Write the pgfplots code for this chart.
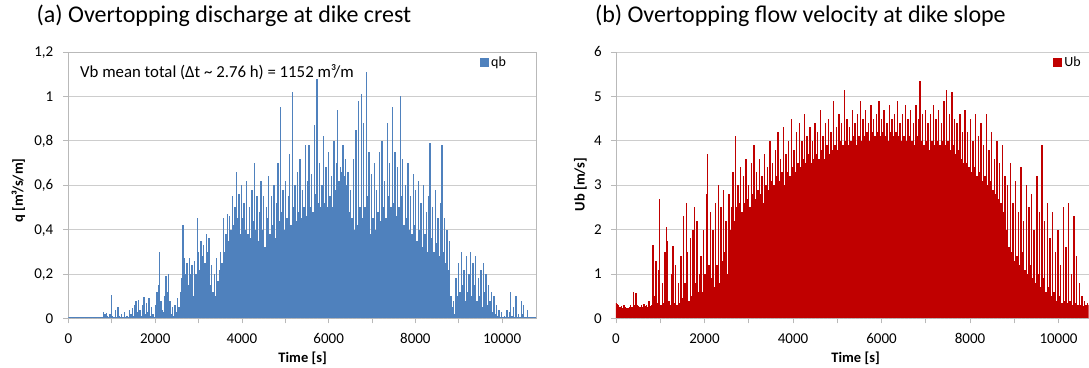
\documentclass[border=0pt]{standalone}
\usepackage{pgfplots}
\pgfplotsset{compat=1.18}
\usepackage{fontspec}
\setmainfont{Carlito}
\definecolor{qbblue}{RGB}{79,129,189}
\definecolor{ubred}{RGB}{192,0,0}
\definecolor{gridgray}{RGB}{205,205,205}
\definecolor{axisgray}{RGB}{185,185,185}
\pgfplotsset{
  excel/.style={
    scale only axis, height=266.5pt,
    xmin=0, ymin=0,
    xtick={0,2000,4000,6000,8000,10000},
    minor xtick={1000,3000,5000,7000,9000},
    scaled x ticks=false, scaled y ticks=false,
    tick align=outside, major tick length=5pt, minor tick length=5pt,
    tick style={axisgray, line width=0.8pt},
    ymajorgrids, grid style={gridgray, line width=0.8pt},
    axis line style={axisgray, line width=0.8pt},
    tick pos=left,
    /pgf/number format/assume math mode=true,
    /pgf/number format/use comma,
    /pgf/number format/1000 sep={},
    ticklabel style={font=\fontsize{15}{18}\selectfont, text height=9.5pt, text depth=0pt, inner sep=0pt},
    xticklabel style={anchor=north, yshift=-10pt},
    title style={anchor=west, inner sep=0pt, font=\fontsize{24}{28}\selectfont},
    legend style={draw=none, fill=none, anchor=west, inner sep=0pt, font=\fontsize{14}{16}\selectfont},
  }
}
\begin{document}
\begin{tikzpicture}
\path (0pt,0pt) rectangle (1089pt,367pt);
% ---------------- (a) ----------------
\begin{axis}[excel, at={(68.5pt,48.5pt)}, anchor=south west, width=468.5pt,
  xmax=10800, ymax=1.2, ytick={0,0.2,0.4,0.6,0.8,1,1.2},
  yticklabel style={anchor=east, xshift=-10pt},
  title={(a) Overtopping discharge at dike crest},
  title style={at={(axis description cs:-0.0683,1.112)}},
  xlabel={Time [s]}, ylabel={q [m³/s/m]},
  every axis x label/.style={at={(axis description cs:0.5,-0.149)}, anchor=center, font=\fontsize{14.5}{17}\selectfont\bfseries},
  every axis y label/.style={at={(axis description cs:-0.107,0.48)}, rotate=90, anchor=center, font=\fontsize{14.5}{17}\selectfont\bfseries},
  legend style={at={(axis description cs:0.878,0.961)}},
  legend image code/.code={\fill[qbblue] (0pt,-4pt) rectangle (8pt,4pt);},
]
\addplot[ycomb, draw=qbblue, line width=1.35pt] coordinates {
(0,0.004)(30,0.004)(60,0.004)(90,0.004)(120,0.004)(150,0.004)(180,0.004)(210,0.004)(240,0.004)(270,0.004)
(300,0.004)(330,0.004)(360,0.004)(390,0.004)(420,0.004)(450,0.004)(480,0.004)(510,0.004)(540,0.004)(570,0.004)
(600,0.004)(630,0.004)(660,0.004)(690,0.004)(720,0.004)(750,0.004)(780,0.004)
(810,0.03)(840,0.02)(870,0.025)(900,0.01)(930,0.005)(960,0.02)(990,0.105)(1020,0.01)(1050,0.005)(1080,0.04)
(1110,0.005)(1140,0.05)(1170,0.01)(1200,0.005)(1230,0.02)(1260,0.005)(1290,0.03)(1320,0.005)(1350,0.01)(1380,0.005)
(1410,0.04)(1440,0.02)(1470,0.045)(1500,0.01)(1530,0.06)(1560,0.08)(1590,0.03)(1620,0.085)(1650,0.04)(1680,0.01)
(1710,0.06)(1740,0.095)(1770,0.02)(1800,0.07)(1830,0.03)(1860,0.09)(1890,0.01)(1920,0.05)(1950,0.02)(1980,0.005)
(2010,0.06)(2040,0.12)(2070,0.15)(2100,0.30)(2130,0.08)(2160,0.04)(2190,0.03)(2220,0.1)(2250,0.19)(2280,0.12)
(2310,0.2)(2340,0.08)(2370,0.02)(2400,0.05)(2430,0.01)(2460,0.06)(2490,0.03)(2520,0.09)(2550,0.05)(2580,0.12)
(2610,0.18)(2640,0.42)(2670,0.27)(2700,0.2)(2730,0.25)(2760,0.15)(2790,0.27)(2820,0.2)(2850,0.24)(2880,0.1)
(2910,0.26)(2940,0.2)(2970,0.45)(3000,0.3)(3030,0.22)(3060,0.35)(3090,0.28)(3120,0.33)(3150,0.25)(3180,0.38)
(3210,0.3)(3240,0.36)(3270,0.15)(3300,0.24)(3330,0.12)(3360,0.2)(3390,0.1)(3420,0.27)(3450,0.17)(3480,0.22)
(3510,0.3)(3540,0.25)(3570,0.45)(3600,0.3)(3630,0.38)(3660,0.47)(3690,0.35)(3720,0.46)(3750,0.4)(3780,0.55)
(3810,0.42)(3840,0.5)(3870,0.66)(3900,0.45)(3930,0.56)(3960,0.38)(3990,0.6)(4020,0.45)(4050,0.52)(4080,0.4)
(4110,0.62)(4140,0.38)(4170,0.5)(4200,0.36)(4230,0.58)(4260,0.44)(4290,0.7)(4320,0.4)(4350,0.55)(4380,0.35)
(4410,0.48)(4440,0.62)(4470,0.4)(4500,0.55)(4530,0.32)(4560,0.5)(4590,0.45)(4620,0.64)(4650,0.38)(4680,0.55)
(4710,0.42)(4740,0.6)(4770,0.36)(4800,0.52)(4830,0.7)(4860,0.44)(4890,0.95)(4920,0.48)(4950,0.58)(4980,0.4)
(5010,0.62)(5040,0.45)(5070,0.55)(5100,0.74)(5130,0.42)(5160,1.02)(5190,0.5)(5220,0.6)(5250,0.44)(5280,0.66)
(5310,0.48)(5340,0.72)(5370,0.45)(5400,0.58)(5430,0.5)(5460,0.78)(5490,0.46)(5520,0.62)(5550,0.78)(5580,0.5)
(5610,0.65)(5640,0.48)(5670,0.87)(5700,0.56)(5730,1.08)(5760,0.52)(5790,0.7)(5820,0.5)(5850,0.6)(5880,0.82)
(5910,0.52)(5940,0.68)(5970,0.5)(6000,0.75)(6030,0.55)(6060,0.64)(6090,0.5)(6120,0.8)(6150,0.58)(6180,0.7)
(6210,0.94)(6240,0.62)(6270,0.68)(6300,0.66)(6330,0.78)(6360,0.64)(6390,0.72)(6420,0.6)(6450,0.66)(6480,0.48)
(6510,0.58)(6540,0.45)(6570,0.72)(6600,0.4)(6630,0.85)(6660,0.42)(6690,0.98)(6720,0.5)(6750,1.01)(6780,0.45)
(6810,0.88)(6840,0.5)(6870,1.11)(6900,0.55)(6930,0.75)(6960,0.38)(6990,0.65)(7020,0.45)(7050,0.7)(7080,0.4)
(7110,0.58)(7140,0.48)(7170,0.75)(7200,0.44)(7230,0.8)(7260,0.5)(7290,0.62)(7320,0.45)(7350,0.88)(7380,0.55)
(7410,0.7)(7440,0.5)(7470,0.95)(7500,0.52)(7530,0.75)(7560,0.46)(7590,0.68)(7620,0.5)(7650,1.0)(7680,0.55)
(7710,0.72)(7740,0.42)(7770,0.6)(7800,0.45)(7830,0.7)(7860,0.4)(7890,0.55)(7920,0.38)(7950,0.65)(7980,0.42)
(8010,0.58)(8040,0.35)(8070,0.62)(8100,0.4)(8130,0.52)(8160,0.32)(8190,0.6)(8220,0.38)(8250,0.48)(8280,0.3)
(8310,0.55)(8340,0.79)(8370,0.36)(8400,0.5)(8430,0.3)(8460,0.58)(8490,0.34)(8520,0.45)(8550,0.28)(8580,0.52)
(8610,0.78)(8640,0.3)(8670,0.45)(8700,0.25)(8730,0.4)(8760,0.22)(8790,0.35)(8820,0.1)(8850,0.05)(8880,0.08)
(8910,0.02)(8940,0.18)(8970,0.1)(9000,0.25)(9030,0.12)(9060,0.3)(9090,0.15)(9120,0.22)(9150,0.08)(9180,0.28)
(9210,0.12)(9240,0.2)(9270,0.3)(9300,0.1)(9330,0.25)(9360,0.15)(9390,0.28)(9420,0.08)(9450,0.18)(9480,0.1)
(9510,0.22)(9540,0.05)(9570,0.25)(9600,0.12)(9630,0.2)(9660,0.06)(9690,0.15)(9720,0.08)(9750,0.12)(9780,0.03)
(9810,0.1)(9840,0.02)(9870,0.06)(9900,0.01)(9930,0.04)(9960,0.005)(9990,0.03)(10020,0.005)(10050,0.01)(10080,0.005)
(10110,0.04)(10140,0.005)(10170,0.03)(10200,0.12)(10230,0.01)(10260,0.05)(10290,0.005)(10320,0.1)(10350,0.005)(10380,0.02)
(10410,0.005)(10440,0.08)(10470,0.02)(10500,0.06)(10530,0.005)(10560,0.005)(10590,0.04)(10620,0.005)(10650,0.005)(10680,0.005)
(10710,0.005)(10740,0.005)(10770,0.005)
};
\addlegendentry{qb}
\node[anchor=west, inner sep=0pt, font=\fontsize{16.8}{20}\selectfont] at (axis description cs:0.0245,0.925) {Vb mean total (Δt \textasciitilde\ 2.76 h) = 1152 m³/m};
\end{axis}
% ---------------- (b) ----------------
\begin{axis}[excel, at={(616.2pt,48.5pt)}, anchor=south west, width=472.8pt,
  xmax=10680,
  axis x line*=bottom, axis y line*=left,
  ymax=6, ytick={0,1,2,3,4,5,6},
  yticklabel style={anchor=east, xshift=-9pt},
  title={(b) Overtopping flow velocity at dike slope},
  title style={at={(axis description cs:-0.0448,1.112)}},
  xlabel={Time [s]}, ylabel={Ub [m/s]},
  every axis x label/.style={at={(axis description cs:0.507,-0.149)}, anchor=center, font=\fontsize{14.5}{17}\selectfont\bfseries},
  every axis y label/.style={at={(axis description cs:-0.0751,0.503)}, rotate=90, anchor=center, font=\fontsize{14.5}{17}\selectfont\bfseries},
  legend style={at={(axis description cs:0.924,0.961)}},
  legend image code/.code={\fill[ubred] (0pt,-4pt) rectangle (8pt,4pt);},
]
\addplot[ycomb, draw=ubred, line width=1.38pt] coordinates {
(0,0.35)(30,0.33)(60,0.3)(90,0.25)(120,0.28)(150,0.24)(180,0.3)(210,0.25)(240,0.24)(270,0.24)
(300,0.25)(330,0.3)(360,0.26)(390,0.6)(420,0.3)(450,0.58)(480,0.3)(510,0.28)(540,0.26)(570,0.3)
(600,0.25)(630,0.32)(660,0.27)(690,0.3)(720,0.26)(750,0.4)(780,0.27)(810,0.3)(840,1.66)(870,0.5)
(900,1.3)(930,0.35)(960,1.1)(990,2.69)(1020,0.3)(1050,0.8)(1080,0.35)(1110,1.5)(1140,2.05)(1170,1.75)
(1200,0.4)(1230,0.3)(1260,1.0)(1290,1.63)(1320,0.35)(1350,1.2)(1380,0.3)(1410,0.8)(1440,0.35)(1470,1.4)
(1500,0.45)(1530,2.3)(1560,0.8)(1590,2.6)(1620,1.5)(1650,0.4)(1680,1.8)(1710,0.5)(1740,2.0)(1770,2.5)
(1800,0.8)(1830,2.2)(1860,0.6)(1890,1.0)(1920,1.4)(1950,0.6)(1980,2.0)(2010,1.0)(2040,2.8)(2070,3.7)
(2100,1.2)(2130,2.4)(2160,0.9)(2190,2.0)(2220,0.7)(2250,2.6)(2280,1.2)(2310,3.0)(2340,0.8)(2370,2.5)
(2400,1.3)(2430,2.9)(2460,1.5)(2490,2.2)(2520,1.0)(2550,2.8)(2580,2.0)(2610,2.5)(2640,3.3)(2670,2.2)
(2700,4.1)(2730,2.5)(2760,3.0)(2790,2.6)(2820,3.4)(2850,2.4)(2880,3.2)(2910,2.6)(2940,3.6)(2970,2.7)
(3000,3.0)(3030,2.5)(3060,3.5)(3090,2.8)(3120,3.9)(3150,2.7)(3180,3.3)(3210,2.9)(3240,3.6)(3270,2.8)
(3300,3.2)(3330,2.6)(3360,3.7)(3390,3.0)(3420,3.4)(3450,2.9)(3480,4.0)(3510,3.1)(3540,3.5)(3570,3.0)
(3600,3.8)(3630,3.2)(3660,4.2)(3690,3.1)(3720,3.6)(3750,3.3)(3780,4.3)(3810,3.0)(3840,3.7)(3870,3.3)
(3900,4.0)(3930,3.2)(3960,4.5)(3990,3.4)(4020,3.8)(4050,3.3)(4080,4.2)(4110,3.5)(4140,4.4)(4170,3.4)
(4200,4.0)(4230,3.6)(4260,4.6)(4290,3.5)(4320,4.1)(4350,3.7)(4380,4.3)(4410,3.5)(4440,4.0)(4470,3.6)
(4500,4.4)(4530,3.7)(4560,4.2)(4590,3.6)(4620,4.7)(4650,3.8)(4680,4.1)(4710,3.6)(4740,4.4)(4770,3.9)
(4800,4.5)(4830,3.7)(4860,4.2)(4890,3.8)(4920,4.9)(4950,3.9)(4980,4.3)(5010,3.8)(5040,4.6)(5070,4.0)
(5100,4.4)(5130,3.9)(5160,5.14)(5190,4.0)(5220,4.5)(5250,3.9)(5280,4.3)(5310,4.0)(5340,4.7)(5370,4.1)
(5400,4.4)(5430,3.9)(5460,4.6)(5490,4.1)(5520,4.9)(5550,4.0)(5580,4.5)(5610,4.1)(5640,4.7)(5670,4.2)
(5700,4.4)(5730,4.0)(5760,4.8)(5790,4.2)(5820,4.5)(5850,4.1)(5880,4.6)(5910,4.2)(5940,4.9)(5970,4.1)
(6000,4.5)(6030,4.2)(6060,4.7)(6090,4.1)(6120,4.4)(6150,4.0)(6180,4.8)(6210,4.2)(6240,4.5)(6270,4.1)
(6300,4.6)(6330,4.2)(6360,4.9)(6390,4.1)(6420,4.4)(6450,4.0)(6480,4.6)(6510,4.1)(6540,4.8)(6570,4.0)
(6600,4.5)(6630,4.1)(6660,4.7)(6690,4.0)(6720,4.4)(6750,3.9)(6780,4.8)(6810,4.1)(6840,4.5)(6870,5.35)
(6900,4.0)(6930,4.6)(6960,3.9)(6990,4.7)(7020,4.0)(7050,4.4)(7080,3.8)(7110,4.6)(7140,4.0)(7170,4.8)
(7200,3.9)(7230,4.5)(7260,4.0)(7290,4.7)(7320,3.9)(7350,4.4)(7380,4.0)(7410,4.9)(7440,3.9)(7470,5.14)
(7500,4.0)(7530,4.6)(7560,3.8)(7590,5.1)(7620,3.9)(7650,4.5)(7680,3.7)(7710,4.4)(7740,3.8)(7770,4.6)
(7800,3.6)(7830,4.2)(7860,3.5)(7890,4.7)(7920,3.5)(7950,4.2)(7980,3.4)(8010,4.5)(8040,3.3)(8070,4.0)
(8100,3.4)(8130,4.6)(8160,3.2)(8190,4.1)(8220,3.3)(8250,4.4)(8280,3.1)(8310,3.9)(8340,3.2)(8370,4.6)
(8400,3.0)(8430,3.8)(8460,3.1)(8490,4.2)(8520,2.9)(8550,3.6)(8580,2.8)(8610,4.0)(8640,2.7)(8670,3.5)
(8700,2.6)(8730,3.9)(8760,2.4)(8790,3.2)(8820,2.0)(8850,3.0)(8880,1.6)(8910,3.5)(8940,1.5)(8970,2.6)
(9000,1.3)(9030,3.1)(9060,1.4)(9090,2.4)(9120,1.2)(9150,3.4)(9180,1.5)(9210,2.2)(9240,1.1)(9270,3.0)
(9300,1.0)(9330,2.5)(9360,1.2)(9390,2.8)(9420,0.9)(9450,2.0)(9480,0.8)(9510,3.2)(9540,1.0)(9570,2.4)
(9600,0.7)(9630,3.9)(9660,0.9)(9690,2.2)(9720,0.6)(9750,2.6)(9780,0.7)(9810,1.8)(9840,0.5)(9870,2.4)
(9900,0.6)(9930,1.5)(9960,0.4)(9990,2.0)(10020,0.5)(10050,1.2)(10080,0.35)(10110,2.5)(10140,0.4)(10170,1.6)
(10200,0.35)(10230,2.6)(10260,0.4)(10290,1.0)(10320,0.3)(10350,2.3)(10380,0.35)(10410,1.4)(10440,0.3)(10470,0.8)
(10500,0.3)(10530,0.5)(10560,0.28)(10590,0.4)(10620,0.3)(10650,0.35)(10680,0.3)
};
\addlegendentry{Ub}
\end{axis}
\end{tikzpicture}
\end{document}
